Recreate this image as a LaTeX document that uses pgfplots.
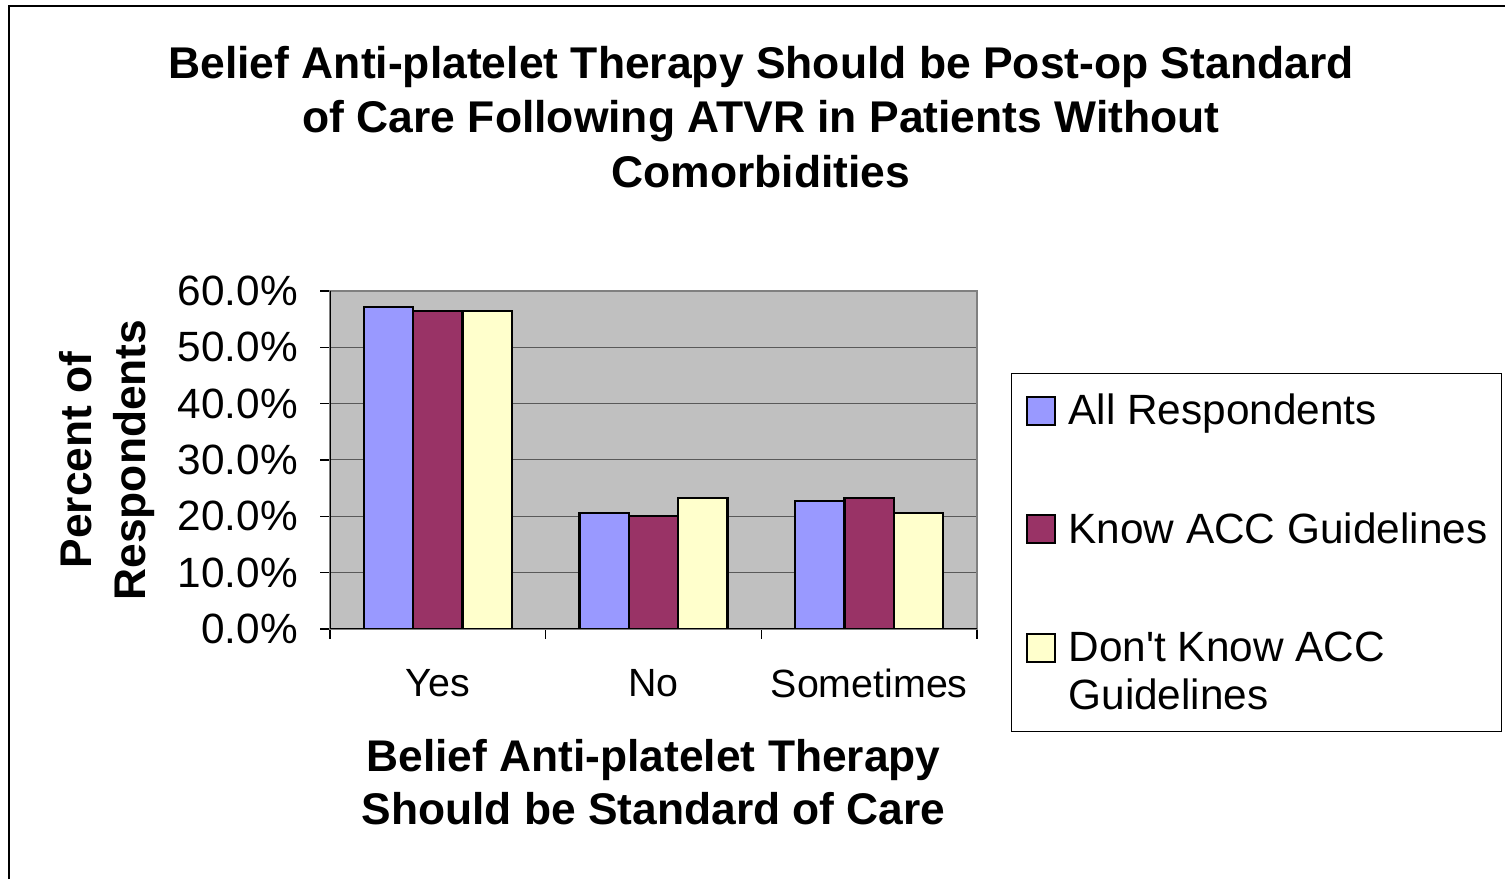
\documentclass[border=0pt]{standalone}
\usepackage{pgfplots}
\pgfplotsset{compat=1.18}
\usepackage{fontspec}
\setmainfont{Liberation Sans}
\definecolor{cA}{HTML}{9999FF}
\definecolor{cB}{HTML}{993366}
\definecolor{cC}{HTML}{FFFFCC}
\definecolor{plotbg}{HTML}{C0C0C0}
\begin{document}
\begin{tikzpicture}[x=1bp,y=1bp]
\useasboundingbox (0,0) rectangle (1505,879);
\draw[line width=1.5bp] (9,0) -- (9,873) -- (1505,873);
\node[font=\fontsize{44.6}{55}\selectfont\bfseries, align=center] at (761,762)
  {Belief Anti-platelet Therapy Should be Post-op Standard\\of Care Following ATVR in Patients Without\\Comorbidities};
\begin{axis}[
  at={(330bp,250bp)}, anchor=south west,
  scale only axis, width=647bp, height=338bp,
  xmin=-0.5, xmax=2.5, ymin=0, ymax=60,
  ybar=0pt, bar width=49.3bp,
  axis background/.style={fill=plotbg},
  axis line style={draw=black!50, line width=2bp},
  ytick={0,10,...,60},
  yticklabel={\pgfmathprintnumber[fixed,fixed zerofill,precision=1]{\tick}\%},
  /pgf/number format/assume math mode=true,
  ymajorgrids, major grid style={draw=black!65, line width=1bp},
  tick align=outside, major tick length=10bp,
  xtick pos=bottom, ytick pos=left,
  tick style={draw=black, line width=1.2bp},
  xtick={-0.5,0.5,1.5,2.5}, xticklabels={},
  extra x ticks={0,1,2}, extra x tick labels={Yes,No,Sometimes},
  extra x tick style={major tick length=0pt, grid=none,
    xticklabel style={font=\fontsize{39.5}{48}\selectfont, anchor=north, inner sep=0pt, yshift=-40bp}},
  yticklabel style={font=\fontsize{42.5}{50}\selectfont, anchor=east, inner sep=0pt, xshift=-22bp},
  ylabel={Percent of\\Respondents},
  ylabel style={font=\fontsize{44.5}{54}\selectfont\bfseries, align=center, at={(axis description cs:-0.2705,0.5)}, anchor=south, inner sep=0pt},
  xlabel={Belief Anti-platelet Therapy\\Should be Standard of Care},
  xlabel style={font=\fontsize{44.5}{54}\selectfont\bfseries, align=center, at={(axis description cs:0.5,-0.325)}, anchor=north, inner sep=0pt},
  legend style={at={(axis description cs:1.0526,0.757)}, anchor=north west,
    draw=black, line width=1bp, fill=white,
    inner xsep=14bp, inner ysep=20bp, row sep=86bp, column sep=13bp,
    font=\fontsize{42.5}{49}\selectfont,
    nodes={inner sep=0pt, align=left},
    cells={anchor=north west}},
  legend image code/.code={\draw[#1, draw=black, line width=2bp] (0bp,-31bp) rectangle (28bp,-3bp);},
]
\addplot[fill=cA, draw=black, line width=2.2bp] coordinates {(0,57.2) (1,20.6) (2,22.7)};
\addplot[fill=cB, draw=black, line width=2.2bp] coordinates {(0,56.5) (1,20.1) (2,23.3)};
\addplot[fill=cC, draw=black, line width=2.2bp] coordinates {(0,56.5) (1,23.3) (2,20.6)};
\legend{All Respondents, Know ACC Guidelines, Don\textquotesingle t Know ACC\\Guidelines}
\draw[black, line width=1.5bp] (rel axis cs:0,1) -- (rel axis cs:0,0) -- (rel axis cs:1,0);
\end{axis}
\end{tikzpicture}
\end{document}
